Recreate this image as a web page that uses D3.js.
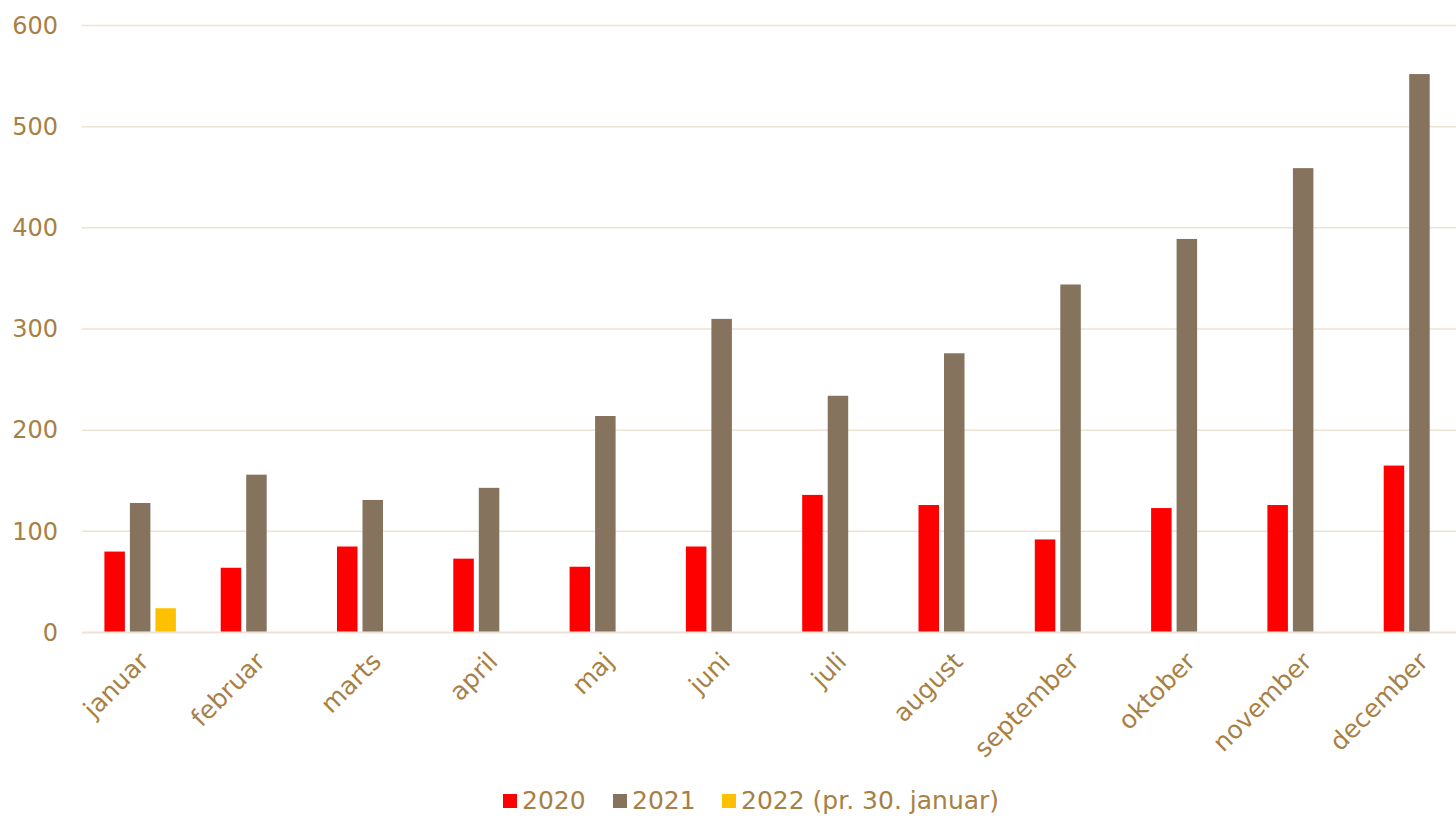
<!DOCTYPE html>
<html><head><meta charset="utf-8">
<script src="https://cdn.jsdelivr.net/npm/d3@7"></script>
<style>body{margin:0;background:#fff}svg{display:block}text{font-family:"DejaVu Sans",Verdana,sans-serif}</style>
</head><body><svg id="c" width="1456" height="816"></svg>
<script>
const months = ["januar","februar","marts","april","maj","juni","juli","august","september","oktober","november","december"];
const seriesNames = ["2020","2021","2022 (pr. 30. januar)"];
const seriesColors = ["#FF0000","#85735E","#FFC000"];
const v2020 = [80,64,85,73,65,85,136,126,92,123,126,165];
const v2021 = [128,156,131,143,214,310,234,276,344,389,459,552];
const v2022 = [24,null,null,null,null,null,null,null,null,null,null,null];
const yTicks = [0,100,200,300,400,500,600];

const data = [v2020, v2021, v2022];
const svg = d3.select("#c");
const textColor = "#A87F45";
const gridColor = "#EDE3D2";

const x = d3.scaleBand().domain(months).range([82, 1477.6]).paddingInner(0).paddingOuter(0);
const y = d3.scaleLinear().domain([0,600]).range([632.5, 25.5]);
const groupW = 71.5;
const x1 = d3.scaleBand().domain(seriesNames).range([0, groupW]).paddingInner(0.196);

// gridlines
svg.append("g").selectAll("line").data(yTicks).join("line")
  .attr("x1", 82).attr("x2", 1477.6)
  .attr("y1", d => y(d)).attr("y2", d => y(d))
  .attr("stroke", gridColor).attr("stroke-width", d => d === 0 ? 2 : 1.5);

// y axis labels
const yAxis = d3.axisLeft(y).tickValues(yTicks).tickSize(0).tickPadding(0);
const gy = svg.append("g").attr("transform","translate(58,0)").call(yAxis);
gy.select(".domain").remove();
gy.selectAll("text").attr("fill", textColor).style("font-size","24px");

// bars
const groups = svg.append("g").selectAll("g").data(months).join("g")
  .attr("transform", d => `translate(${x(d) + x.bandwidth()/2 - groupW/2},0)`);
groups.selectAll("rect").data((m,i) => seriesNames.map((s,j) => ({s, j, v: data[j][i]})).filter(d => d.v != null))
  .join("rect")
  .attr("x", d => x1(d.s)).attr("width", x1.bandwidth())
  .attr("y", d => y(d.v)).attr("height", d => y(0) - y(d.v) - 1)
  .attr("fill", d => seriesColors[d.j]);

// x labels
const xAxis = d3.axisBottom(x).tickSize(0).tickPadding(0);
const gx = svg.append("g").attr("transform","translate(0,632)").call(xAxis);
gx.select(".domain").remove();
gx.selectAll("text")
  .attr("fill", textColor).style("font-size","25px")
  .attr("text-anchor","end").attr("dy", null).attr("y", 0)
  .attr("transform","translate(10,31) rotate(-45)");

// legend
const legX = [503, 613, 722];
const leg = svg.append("g").selectAll("g").data(seriesNames).join("g")
  .attr("transform", (d,i) => `translate(${legX[i]},794)`);
leg.append("rect").attr("width",14).attr("height",14).attr("fill", (d,i) => seriesColors[i]);
leg.append("text").attr("x",19).attr("y",14.5).attr("fill",textColor).style("font-size","25px").text(d => d);
</script></body></html>
